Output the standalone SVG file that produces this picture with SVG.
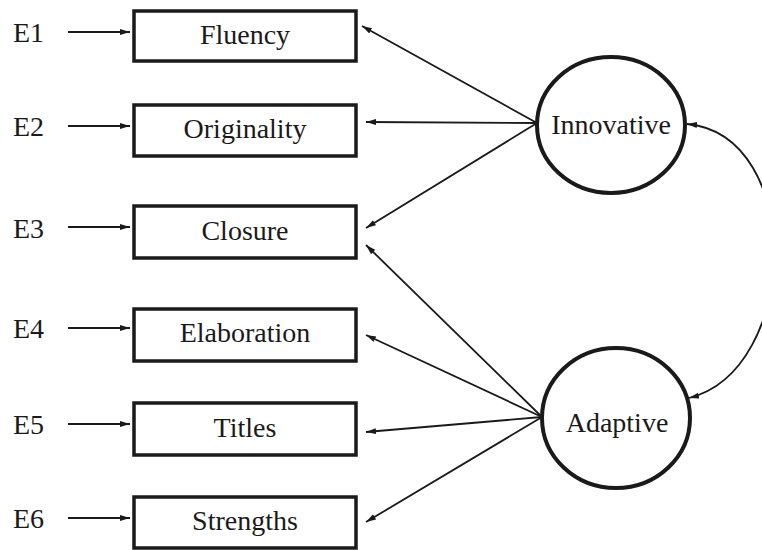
<svg xmlns="http://www.w3.org/2000/svg" width="762" height="550" viewBox="0 0 762 550">
<style>
.box{fill:#fff;stroke:#1a1a1a;stroke-width:3.5}
.lat{fill:#fff;stroke:#1a1a1a;stroke-width:4}
.t{font-family:"Liberation Serif","Times New Roman",serif;font-size:28px;fill:#1a1a1a}
.c{text-anchor:middle}
.ln{stroke:#1a1a1a;stroke-width:1.8;fill:none;marker-end:url(#ah)}
</style>
<defs>
<marker id="ah" markerUnits="userSpaceOnUse" markerWidth="12" markerHeight="8" refX="10" refY="4" orient="auto-start-reverse">
<path d="M0,1 L10,4 L0,7 Z" fill="#1a1a1a"/>
</marker>
</defs>
<rect width="762" height="550" fill="#fff"/>
<g id="connectors">
<line class="ln" x1="68" y1="32" x2="130" y2="32"/>
<line class="ln" x1="68" y1="126" x2="130" y2="126"/>
<line class="ln" x1="68" y1="227" x2="130" y2="227"/>
<line class="ln" x1="68" y1="328" x2="130" y2="328"/>
<line class="ln" x1="68" y1="424" x2="130" y2="424"/>
<line class="ln" x1="68" y1="518" x2="130" y2="518"/>
<line class="ln" x1="537" y1="123" x2="362" y2="26"/>
<line class="ln" x1="537" y1="123" x2="366" y2="122"/>
<line class="ln" x1="537" y1="123" x2="366" y2="228"/>
<line class="ln" x1="542" y1="417" x2="366" y2="245"/>
<line class="ln" x1="542" y1="417" x2="366" y2="335"/>
<line class="ln" x1="542" y1="417" x2="366" y2="432"/>
<line class="ln" x1="542" y1="417" x2="366" y2="522"/>
<path class="ln" style="marker-start:url(#ah)" d="M687,124 C805,135 800,370 689,398"/>
</g>
<g id="E1"><text class="t" x="13" y="42">E1</text></g>
<g id="E2"><text class="t" x="13" y="136">E2</text></g>
<g id="E3"><text class="t" x="13" y="238">E3</text></g>
<g id="E4"><text class="t" x="13" y="338">E4</text></g>
<g id="E5"><text class="t" x="13" y="434">E5</text></g>
<g id="E6"><text class="t" x="13" y="528">E6</text></g>
<g id="fluency"><rect class="box" x="134" y="11" width="222" height="50"/><text class="t c" x="245" y="44">Fluency</text></g>
<g id="originality"><rect class="box" x="134" y="105" width="222" height="51"/><text class="t c" x="245" y="138">Originality</text></g>
<g id="closure"><rect class="box" x="134" y="206" width="222" height="52"/><text class="t c" x="245" y="240">Closure</text></g>
<g id="elaboration"><rect class="box" x="134" y="309" width="222" height="52"/><text class="t c" x="245" y="342">Elaboration</text></g>
<g id="titles"><rect class="box" x="134" y="403" width="222" height="52"/><text class="t c" x="245" y="437">Titles</text></g>
<g id="strengths"><rect class="box" x="134" y="497" width="222" height="51"/><text class="t c" x="245" y="530">Strengths</text></g>
<g id="innovative"><ellipse class="lat" cx="611" cy="125" rx="74" ry="68"/><text class="t c" x="611" y="134">Innovative</text></g>
<g id="adaptive"><ellipse class="lat" cx="616" cy="418" rx="74" ry="70"/><text class="t c" x="617" y="432">Adaptive</text></g>
</svg>
